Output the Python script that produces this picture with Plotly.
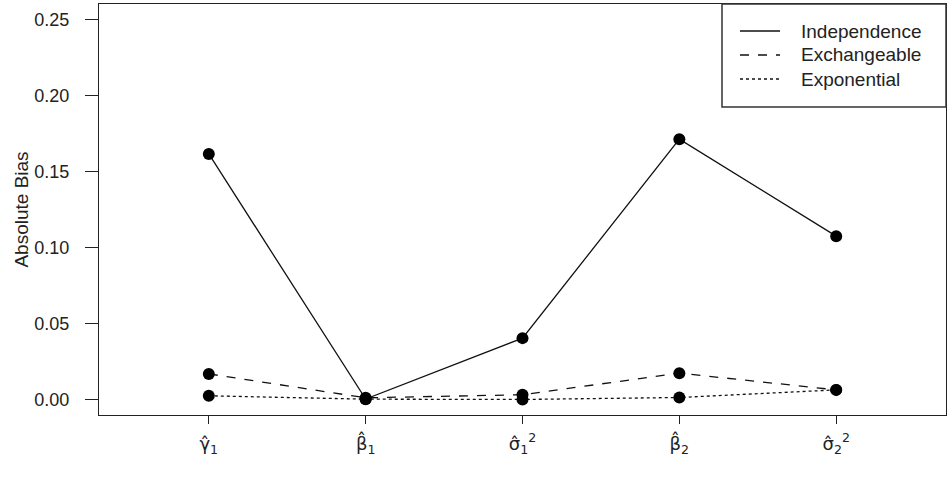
import plotly.graph_objects as go

categories = ["γ̂<sub>1</sub>", "β̂<sub>1</sub>", "σ̂<sub>1</sub><sup>2</sup>", "β̂<sub>2</sub>", "σ̂<sub>2</sub><sup>2</sup>"]
x_pos = [1, 2, 3, 4, 5]
independence = [0.1615, 0.0005, 0.0405, 0.1712, 0.1075]
exchangeable = [0.0170, 0.0013, 0.0033, 0.0175, 0.0065]
exponential = [0.0026, 0.0004, 0.0002, 0.0015, 0.0065]
series_names = ["Independence", "Exchangeable", "Exponential"]
dash_styles = ["solid", "dash", "dot"]
y_ticks = [0.00, 0.05, 0.10, 0.15, 0.20, 0.25]

fig = go.Figure()
for name, vals, dsh in zip(series_names, [independence, exchangeable, exponential], dash_styles):
    fig.add_trace(go.Scatter(
        x=x_pos, y=vals, name=name, mode="lines+markers", showlegend=False,
        line=dict(color="#111", width=1.3, dash=dsh),
        marker=dict(color="black", size=12, symbol="circle"),
    ))

# manual legend (lines only, as in the reference), in paper coordinates
L, W, T, H = 99, 847, 4, 411
def px(xp):
    return (xp - L) / W
def py(yp):
    return 1 - (yp - T) / H

fig.add_shape(type="rect", xref="paper", yref="paper",
              x0=px(722), x1=1.0, y0=py(107), y1=1.0,
              line=dict(color="#333", width=1.5), layer="above")
row_y = [31, 55, 79]
for name, dsh, ry in zip(series_names, dash_styles, row_y):
    fig.add_shape(type="line", xref="paper", yref="paper",
                  x0=px(740), x1=px(780), y0=py(ry), y1=py(ry),
                  line=dict(color="#111", width=1.3, dash=dsh))
    fig.add_annotation(xref="paper", yref="paper", x=px(799), y=py(ry),
                       xanchor="left", yanchor="middle", text=name, showarrow=False,
                       font=dict(size=19, color="#222"))

font_family = "Liberation Sans, Arial, sans-serif"
fig.update_layout(
    width=949, height=488,
    margin=dict(l=99, r=3, t=4, b=73),
    plot_bgcolor="white", paper_bgcolor="white",
    font=dict(family=font_family, size=18, color="#222"),
    showlegend=False,
    xaxis=dict(
        range=[0.3, 5.7], tickvals=x_pos, ticktext=categories,
        showline=True, linecolor="#222", linewidth=1.3, mirror=True,
        ticks="outside", ticklen=8, tickcolor="#222",
        showgrid=False, zeroline=False, ticklabelstandoff=4,
        tickfont=dict(size=18, family="DejaVu Sans, sans-serif"),
    ),
    yaxis=dict(
        range=[-0.01, 0.26], tickvals=y_ticks, ticktext=[f"{v:.2f}" for v in y_ticks],
        showline=True, linecolor="#222", linewidth=1.3, mirror=True,
        ticks="outside", ticklen=13, tickcolor="#222",
        showgrid=False, zeroline=False, ticklabelstandoff=12,
        tickfont=dict(size=18),
        title=dict(text="Absolute Bias", standoff=0, font=dict(size=19)),
    ),
)

fig.write_html("out.html")
